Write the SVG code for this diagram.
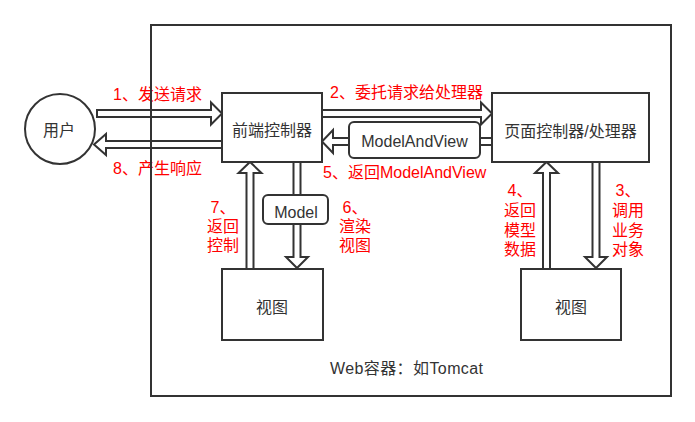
<svg xmlns="http://www.w3.org/2000/svg" width="695" height="422" viewBox="0 0 695 422">
<style>
.box{fill:#fff;stroke:#333;stroke-width:2}
.lbl{fill:#fff;stroke:#333;stroke-width:2}
.arr{fill:#fff;stroke:#333;stroke-width:2;stroke-linejoin:miter}
text{font-family:"Liberation Sans","Noto Sans CJK SC",sans-serif;font-size:16px}
.t{fill:#333}
.r{fill:#ff0000}
.c{text-anchor:middle}
</style>
<rect width="695" height="422" fill="#fff"/>
<g id="connectors">
<polygon class="arr" points="97,110 211,110 211,102.5 222,113.5 211,124.5 211,117 97,117"/>
<polygon class="arr" points="222,141 106,141 106,134 94,144.5 106,155 106,148 222,148"/>
<polygon class="arr" points="322,110 481,110 481,102.5 492,113.5 481,124.5 481,117 322,117"/>
<polygon class="arr" points="492,138 333,138 333,130 322,141.5 333,153 333,145 492,145"/>
<polygon class="arr" points="246.5,269 246.5,173 238.5,173 250,162 261.5,173 253.5,173 253.5,269"/>
<polygon class="arr" points="293.5,162 293.5,257 286,257 297,268 308,257 300.5,257 300.5,162"/>
<polygon class="arr" points="543,269 543,173 535,173 546.5,162 558,173 550,173 550,269"/>
<polygon class="arr" points="592.5,162 592.5,257 585,257 596,268 607,257 599.5,257 599.5,162"/>
<rect class="lbl" x="349" y="122" width="131" height="36" rx="5"/>
<text class="t c" x="414.5" y="147">ModelAndView</text>
<rect class="lbl" x="263" y="195" width="65" height="29" rx="5"/>
<text class="t c" x="296" y="218">Model</text>
<text class="r" x="113" y="100">1、发送请求</text>
<text class="r" x="113" y="174">8、产生响应</text>
<text class="r" x="330" y="98">2、委托请求给处理器</text>
<text class="r" x="323" y="178">5、返回ModelAndView</text>
<text class="r c" x="223" y="213">7、</text>
<text class="r c" x="223" y="232">返回</text>
<text class="r c" x="223" y="251">控制</text>
<text class="r c" x="355" y="213">6、</text>
<text class="r c" x="355" y="232">渲染</text>
<text class="r c" x="355" y="251">视图</text>
<text class="r c" x="520" y="196">4、</text>
<text class="r c" x="520" y="216">返回</text>
<text class="r c" x="520" y="235.5">模型</text>
<text class="r c" x="520" y="255">数据</text>
<text class="r c" x="628" y="196">3、</text>
<text class="r c" x="628" y="216">调用</text>
<text class="r c" x="628" y="235.5">业务</text>
<text class="r c" x="628" y="255">对象</text>
</g>
<g id="container">
<rect x="151" y="25" width="520" height="371" fill="none" stroke="#333" stroke-width="2"/>
<text class="t" x="330" y="374" textLength="153">Web容器：如Tomcat</text>
</g>
<g id="user">
<circle class="box" cx="60" cy="129" r="35"/>
<text class="t c" x="59" y="136">用户</text>
</g>
<g id="front-controller">
<rect class="box" x="222" y="93" width="100" height="69"/>
<text class="t c" x="272" y="136">前端控制器</text>
</g>
<g id="page-controller">
<rect class="box" x="492" y="93" width="157" height="69"/>
<text class="t c" x="570.5" y="137">页面控制器/处理器</text>
</g>
<g id="view-left">
<rect class="box" x="222" y="269" width="101" height="71"/>
<text class="t c" x="272" y="313">视图</text>
</g>
<g id="view-right">
<rect class="box" x="521" y="269" width="100" height="71"/>
<text class="t c" x="571" y="313">视图</text>
</g>
</svg>
